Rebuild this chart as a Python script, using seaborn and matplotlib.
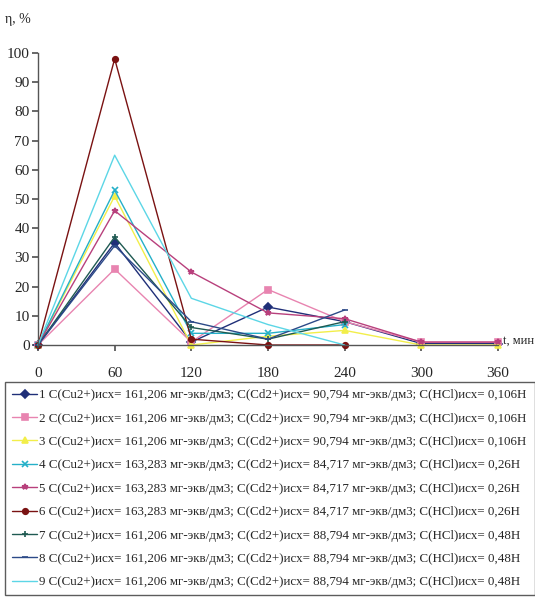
import numpy as np
import pandas as pd
import matplotlib
matplotlib.use("Agg")
import matplotlib.pyplot as plt
import seaborn as sns

t = [0, 60, 120, 180, 240, 300, 360]
s1 = [0, 35, 1, 13, 8, 0.5, 0.5]
s2 = [0, 26, 1, 19, 8, 1, 1]
s3 = [0, 51, 0, 3, 5, 0, 0]
s4 = [0, 53, 4, 4, 7, np.nan, np.nan]
s5 = [0, 46, 25, 11, 9, 1, 1]
s6 = [0, 98, 2, 0, 0, np.nan, np.nan]
s7 = [0, 37, 6, 2, 8, np.nan, np.nan]
s8 = [0, 34, 8, 2, 12, np.nan, np.nan]
s9 = [0, 65, 16, 7, 0, np.nan, np.nan]

labels = [
    "1 C(Cu2+)исх= 161,206 мг-экв/дм3; C(Cd2+)исх= 90,794 мг-экв/дм3; C(HCl)исх= 0,106H",
    "2 C(Cu2+)исх= 161,206 мг-экв/дм3; C(Cd2+)исх= 90,794 мг-экв/дм3; C(HCl)исх= 0,106H",
    "3 C(Cu2+)исх= 161,206 мг-экв/дм3; C(Cd2+)исх= 90,794 мг-экв/дм3; C(HCl)исх= 0,106H",
    "4 C(Cu2+)исх= 163,283 мг-экв/дм3; C(Cd2+)исх= 84,717 мг-экв/дм3; C(HCl)исх= 0,26H",
    "5 C(Cu2+)исх= 163,283 мг-экв/дм3; C(Cd2+)исх= 84,717 мг-экв/дм3; C(HCl)исх= 0,26H",
    "6 C(Cu2+)исх= 163,283 мг-экв/дм3; C(Cd2+)исх= 84,717 мг-экв/дм3; C(HCl)исх= 0,26H",
    "7 C(Cu2+)исх= 161,206 мг-экв/дм3; C(Cd2+)исх= 88,794 мг-экв/дм3; C(HCl)исх= 0,48H",
    "8 C(Cu2+)исх= 161,206 мг-экв/дм3; C(Cd2+)исх= 88,794 мг-экв/дм3; C(HCl)исх= 0,48H",
    "9 C(Cu2+)исх= 161,206 мг-экв/дм3; C(Cd2+)исх= 88,794 мг-экв/дм3; C(HCl)исх= 0,48H",
]
series = [s1, s2, s3, s4, s5, s6, s7, s8, s9]
colors = ["#1f2f78", "#e884b0", "#f2ee4a", "#25b0c8", "#b8407c",
          "#7a1212", "#1f5a52", "#2c4a88", "#5cd6e6"]
markers = ["D", "s", "^", "x", "*", "o", "+", "_", ""]

sns.set_theme(style="white")
plt.rcParams["font.family"] = ["Liberation Serif", "DejaVu Serif"]

fig = plt.figure(figsize=(5.35, 5.98), dpi=100)
ax = fig.add_axes([38/535, 1-345/598, 460/535, 292/598])

for lab, vals, c, m in zip(labels, series, colors, markers):
    df = pd.DataFrame({"t": t, "v": vals}).dropna()
    sns.lineplot(data=df, x="t", y="v", ax=ax, color=c, marker=m if m else None,
                 markersize=4, markeredgecolor=c, markeredgewidth=1.2,
                 linewidth=1.0, label=lab, clip_on=False)

ax.set_xlim(0, 360)
ax.set_ylim(0, 100)
ax.set_xticks(t)
ax.set_xticklabels([str(v) for v in t])
ax.set_yticks(range(0, 101, 10))
ax.set_xlabel("")
ax.set_ylabel("")
for s in ["top", "right"]:
    ax.spines[s].set_visible(False)
for s in ["left", "bottom"]:
    ax.spines[s].set_color("#555555")
    ax.spines[s].set_linewidth(1.0)
ax.tick_params(axis="x", direction="out", length=4, color="#555555", pad=12, labelsize=11)
ax.tick_params(axis="y", direction="out", length=4, color="#555555", pad=2, labelsize=11)
ax.tick_params(left=True, bottom=True)

fig.text(5/535, 1-20/598, "η, %", fontsize=10, ha="left", va="center")
fig.text(503/535, 1-341/598, "t, мин", fontsize=9, ha="left", va="center")

leg = ax.legend(loc="upper left", bbox_to_anchor=(5/535, 0, 530/535, 216/598),
                bbox_transform=fig.transFigure, mode="expand", ncol=1,
                fontsize=9.4, frameon=True, fancybox=False, handlelength=1.9,
                handletextpad=0.15, borderaxespad=0, borderpad=0.55,
                labelspacing=0.86)
leg.get_frame().set_edgecolor("#333333")
leg.get_frame().set_linewidth(1.0)

fig.savefig("out.png", dpi=100, facecolor="white")
